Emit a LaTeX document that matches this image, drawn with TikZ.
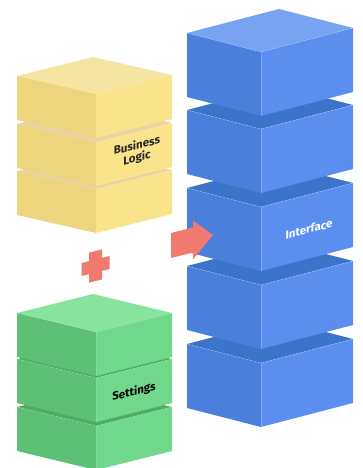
\documentclass[tikz,border=0pt]{standalone}
\usepackage{fontspec}
\setmainfont{Fira Sans}
\definecolor{ytop}{HTML}{F5E5A2}
\definecolor{yleft}{HTML}{EDD57D}
\definecolor{yright}{HTML}{F9E48B}
\definecolor{ygap}{HTML}{E8D3A5}
\definecolor{btop}{HTML}{78A3F0}
\definecolor{bleft}{HTML}{4A7FDC}
\definecolor{bright}{HTML}{5C8EEF}
\definecolor{bgap}{HTML}{3B74C8}
\definecolor{gtop}{HTML}{88E39D}
\definecolor{gleft}{HTML}{5DC074}
\definecolor{gright}{HTML}{71D78B}
\definecolor{ggap}{HTML}{4FAE62}
\definecolor{redmark}{HTML}{F07A70}
% cx, ytop(front), height, left half width, right half width, left drop, right drop, top style
\newcommand\isoblk[8]{%
  \fill[#8] (#1,#2) -- ({#1-#4},{#2-#6}) -- ({#1-#4+#5},{#2-#6-#7}) -- ({#1+#5},{#2-#7}) -- cycle;
  \fill[leftface] (#1,#2) -- ({#1-#4},{#2-#6}) -- ({#1-#4},{#2-#6+#3}) -- (#1,{#2+#3}) -- cycle;
  \fill[rightface] (#1,#2) -- ({#1+#5},{#2-#7}) -- ({#1+#5},{#2-#7+#3}) -- (#1,{#2+#3}) -- cycle;
  \draw[edgeline] ({#1-#4},{#2-#6}) -- (#1,#2) -- ({#1+#5},{#2-#7});
  \draw[edgeline] (#1,#2) -- (#1,{#2+#3});
}
\begin{document}
\begin{tikzpicture}[x=1pt,y=-1pt,
  lbl/.style={font=\fontsize{11.5}{12.5}\selectfont\bfseries, align=center, yslant=0.25, inner sep=0pt},
  edgeline/.style={draw=white, draw opacity=0.22, line width=0.6pt}]
\useasboundingbox (0,0) rectangle (362,468);
\clip (0,0) rectangle (362,468);

% blue stack
\begin{scope}[leftface/.style={fill=bleft}, rightface/.style={fill=bright}]
  \isoblk{261}{363}{64}{74}{92}{19}{24}{fill=bgap}
  \isoblk{261}{285}{64}{74}{92}{19}{24}{fill=bgap}
  \isoblk{261}{207}{64}{74}{92}{19}{24}{fill=bgap}
  \isoblk{261}{129}{64}{74}{92}{19}{24}{fill=bgap}
  \isoblk{261}{52}{64}{74}{92}{19}{24}{fill=btop}
\end{scope}

% yellow stack
\begin{scope}[leftface/.style={fill=yleft}, rightface/.style={fill=yright}, edgeline/.style={draw=none}]
  \isoblk{96}{189}{44}{79}{76}{18}{19}{fill=ygap}
  \isoblk{96}{142}{44}{79}{76}{18}{19}{fill=ygap}
  \isoblk{96}{94}{44}{79}{76}{18}{19}{fill=ytop}
\end{scope}

% green stack
\begin{scope}[leftface/.style={fill=gleft}, rightface/.style={fill=gright}, edgeline/.style={draw=white, draw opacity=0.15, line width=0.5pt}]
  \isoblk{96}{426}{44}{79}{76}{19}{19}{fill=ggap}
  \isoblk{96}{378}{44}{79}{76}{19}{19}{fill=ggap}
  \isoblk{96}{332}{44}{79}{76}{19}{19}{fill=gtop}
\end{scope}

% plus sign
\begin{scope}[shift={(95.5,266)}, yslant=0.25]
  \fill[redmark] (-6.5,-15) -- (6.5,-15) -- (6.5,-6.5) -- (14,-6.5) -- (14,6.5) -- (6.5,6.5)
    -- (6.5,15) -- (-6.5,15) -- (-6.5,6.5) -- (-14,6.5) -- (-14,-6.5) -- (-6.5,-6.5) -- cycle;
\end{scope}

% arrow
\begin{scope}[shift={(171,245.5)}, yslant=0.25]
  \fill[redmark] (0,-12.5) -- (22,-12.5) -- (22,-19.5) -- (42,0) -- (22,19.5) -- (22,12.5) -- (0,12.5) -- cycle;
\end{scope}

% labels
\node[lbl, text=black!85] (biz) at (137,152) {Business\\Logic};
\node[lbl, text=white] (intf) at (309,229) {Interface};
\node[lbl, text=black] (sett) at (134,392) {Settings};
\end{tikzpicture}
\end{document}
